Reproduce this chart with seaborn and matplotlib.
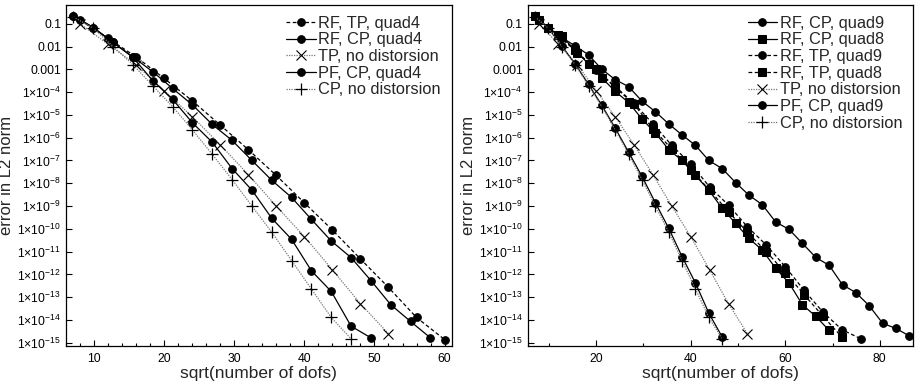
import numpy as np
import pandas as pd
import matplotlib
matplotlib.use("Agg")
import matplotlib.pyplot as plt
import seaborn as sns
from matplotlib.ticker import FixedLocator, MultipleLocator

# ---------------- data ----------------
# x positions (sqrt of number of dofs)
x_tp = [8, 12, 16, 20, 24, 28, 32, 36, 40, 44, 48, 52, 56, 60, 64, 68, 72, 76]
x_cp = [7.07, 9.90, 12.73, 15.56, 18.38, 21.21, 24.04, 26.87, 29.70, 32.53,
        35.36, 38.18, 41.01, 43.84, 46.67, 49.50, 52.33, 55.15, 57.98, 60.81,
        63.64, 66.47, 69.30, 72.12, 74.95, 77.78, 80.61, 83.44, 86.27]

# left panel (quad4)
rf_tp_q4 = [1.45e-1, 2.3e-2, 3.5e-3, 4.0e-4, 4.2e-5, 3.6e-6, 3.0e-7, 2.2e-8,
            1.4e-9, 8.9e-11, 4.8e-12, 2.7e-13, 1.3e-14, 1.4e-15]
rf_cp_q4 = [2.2e-1, 6.8e-2, 1.5e-2, 3.5e-3, 7.8e-4, 1.45e-4, 2.75e-5, 3.8e-6,
            7.6e-7, 1.0e-7, 1.35e-8, 2.4e-9, 2.6e-10, 2.95e-11, 5.5e-12,
            5.4e-13, 4.7e-14, 8.7e-15, 1.66e-15]
pf_cp_q4 = [2.2e-1, 6.8e-2, 1.5e-2, 3.3e-3, 3.2e-4, 4.8e-5, 4.5e-6, 6.3e-7,
            4.4e-8, 5.0e-9, 2.9e-10, 3.5e-11, 1.45e-12, 1.8e-13, 5.4e-15, 1.66e-15]
# undistorted references (same in both panels)
tp_nd = [1.0e-1, 1.26e-2, 1.6e-3, 1.15e-4, 8.5e-6, 4.9e-7, 2.4e-8, 1.0e-9,
         4.6e-11, 1.6e-12, 5.2e-14, 2.5e-15]
cp_nd = [2.0e-1, 6.3e-2, 1.0e-2, 1.6e-3, 1.9e-4, 2.3e-5, 2.2e-6, 1.86e-7,
         1.45e-8, 1.0e-9, 7.1e-11, 4.1e-12, 2.3e-13, 1.3e-14, 1.5e-15]

# right panel (quad8 / quad9)
rf_cp_q9 = [2.2e-1, 6.3e-2, 2.45e-2, 1.07e-2, 4.3e-3, 1.0e-3, 3.5e-4, 1.74e-4,
            4.0e-5, 1.38e-5, 4.0e-6, 1.32e-6, 4.6e-7, 1.0e-7, 4.4e-8, 1.07e-8,
            3.0e-9, 1.15e-9, 2.0e-10, 9.5e-11, 2.3e-11, 5.6e-12, 2.5e-12,
            3.5e-13, 1.6e-13, 4.2e-14, 7.2e-15, 4.3e-15, 2.0e-15]
rf_cp_q8 = [2.2e-1, 6.3e-2, 2.8e-2, 6.9e-3, 1.7e-3, 4.2e-4, 1.07e-4, 3.5e-5,
            6.6e-6, 1.6e-6, 3.0e-7, 1.0e-7, 2.2e-8, 5.0e-9, 7.9e-10, 1.74e-10,
            3.8e-11, 1.17e-11, 1.86e-12, 4.2e-13, 4.7e-14, 1.45e-14, 3.5e-15]
rf_tp_q9 = [1.4e-1, 3.2e-2, 5.6e-3, 9.3e-4, 1.8e-4, 3.2e-5, 4.1e-6, 4.6e-7,
            7.2e-8, 6.9e-9, 1.1e-9, 1.23e-10, 1.95e-11, 2.2e-12, 2.0e-13,
            2.2e-14, 3.8e-15, 1.5e-15]
rf_tp_q8 = [1.4e-1, 3.1e-2, 5.4e-3, 1.0e-3, 1.6e-4, 3.0e-5, 2.45e-6, 3.2e-7,
            4.0e-8, 5.0e-9, 5.6e-10, 7.1e-11, 1.0e-11, 1.2e-12, 1.3e-13,
            1.45e-14, 1.8e-15]
pf_cp_q9 = [2.2e-1, 6.3e-2, 1.07e-2, 1.7e-3, 2.2e-4, 2.6e-5, 2.6e-6, 2.3e-7,
            2.0e-8, 1.4e-9, 1.05e-10, 6.0e-12, 4.2e-13, 2.0e-14, 1.8e-15]

y_tick_values = [10.0 ** -k for k in range(1, 16)]
y_tick_labels = ["0.1", "0.01", "0.001"] + [r"1$\times$10$^{-%d}$" % k for k in range(4, 16)]
x_label = "sqrt(number of dofs)"
y_label = "error in L2 norm"

# ---------------- style ----------------
sns.set_theme(style="ticks")
plt.rcParams["font.family"] = ["Liberation Sans", "DejaVu Sans"]
plt.rcParams["mathtext.fontset"] = "custom"
plt.rcParams["mathtext.rm"] = "Liberation Sans"
plt.rcParams["mathtext.it"] = "Liberation Sans:italic"
plt.rcParams["mathtext.bf"] = "Liberation Sans:bold"

solid = dict(color="black", linestyle="-", lw=0.9, marker="o", markersize=5.5,
             markeredgecolor="black", markerfacecolor="black")
dashed = dict(color="black", linestyle=(0, (3, 2)), lw=0.9, marker="o", markersize=5.5,
              markeredgecolor="black", markerfacecolor="black")
dotted_x = dict(color="#777777", linestyle=(0, (1, 1)), lw=0.9, marker="x", markersize=7,
                markeredgecolor="black", markeredgewidth=0.8)
dotted_p = dict(color="#777777", linestyle=(0, (1, 1)), lw=0.9, marker="+", markersize=9,
                markeredgecolor="black", markeredgewidth=0.9)

fig = plt.figure(figsize=(9.16, 3.87), dpi=100)
ax1 = fig.add_axes([0.072, 0.107, 0.421, 0.880])
ax2 = fig.add_axes([0.576, 0.107, 0.4206, 0.880])


def draw(ax, x, y, label, style, **extra):
    n = len(y)
    df = pd.DataFrame({"x": x[:n], "y": y})
    kw = dict(style)
    kw.update(extra)
    sns.lineplot(data=df, x="x", y="y", ax=ax, sort=False, estimator=None,
                 label=label, **kw)


# left panel
draw(ax1, x_tp, rf_tp_q4, "RF, TP, quad4", dashed)
draw(ax1, x_cp, rf_cp_q4, "RF, CP, quad4", solid)
draw(ax1, x_tp, tp_nd, "TP, no distorsion", dotted_x)
draw(ax1, x_cp, pf_cp_q4, "PF, CP, quad4", solid)
draw(ax1, x_cp, cp_nd, "CP, no distorsion", dotted_p)

# right panel
draw(ax2, x_cp, rf_cp_q9, "RF, CP, quad9", solid)
draw(ax2, x_cp, rf_cp_q8, "RF, CP, quad8", solid, marker="s", markersize=5.5)
draw(ax2, x_tp, rf_tp_q9, "RF, TP, quad9", dashed)
draw(ax2, x_tp, rf_tp_q8, "RF, TP, quad8", dashed, marker="s", markersize=5.5)
draw(ax2, x_tp, tp_nd, "TP, no distorsion", dotted_x)
draw(ax2, x_cp, pf_cp_q9, "PF, CP, quad9", solid)
draw(ax2, x_cp, cp_nd, "CP, no distorsion", dotted_p)

for ax, xlim, maj, mnr in [(ax1, (6, 61), 10, 2), (ax2, (5.5, 87), 20, 10)]:
    ax.set_yscale("log")
    ax.set_xlim(*xlim)
    ax.set_ylim(7.6e-16, 0.66)
    ax.yaxis.set_major_locator(FixedLocator(y_tick_values))
    ax.yaxis.set_minor_locator(FixedLocator([]))
    ax.set_yticklabels(y_tick_labels)
    ax.xaxis.set_major_locator(MultipleLocator(maj))
    ax.xaxis.set_minor_locator(MultipleLocator(mnr))
    ax.tick_params(axis="both", which="both", direction="in", labelsize=8.8,
                   colors="black", width=0.8)
    ax.tick_params(axis="x", which="major", pad=5)
    ax.tick_params(axis="both", which="major", length=4)
    ax.tick_params(axis="both", which="minor", length=2.5)
    ax.set_xlabel(x_label, fontsize=12.5, labelpad=1)
    ax.set_ylabel(y_label, fontsize=12, labelpad=2)
    for s in ax.spines.values():
        s.set_visible(True)
        s.set_color("black")
        s.set_linewidth(0.9)
    leg = ax.legend(loc="upper right", frameon=False, fontsize=11.8,
                    handlelength=1.8, handletextpad=0.15, labelspacing=0.1,
                    borderaxespad=0.25)

fig.savefig("out.png", dpi=100)
